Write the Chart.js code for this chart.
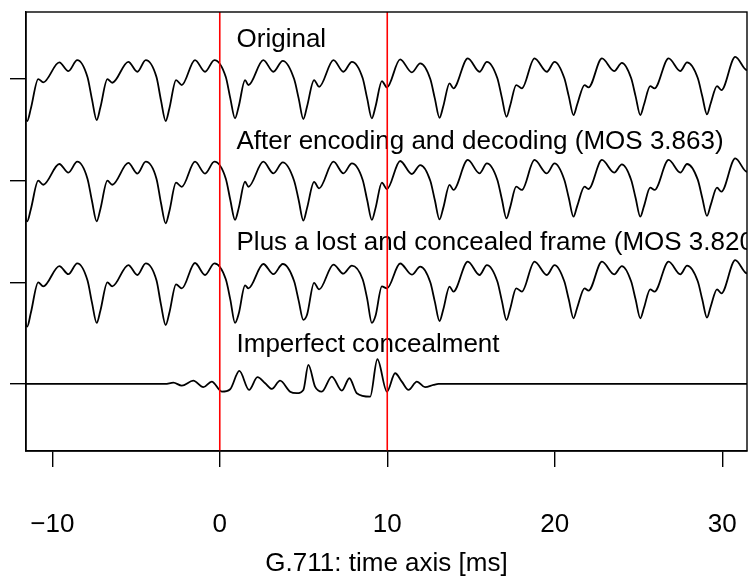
<!DOCTYPE html>
<html>
<head>
<meta charset="utf-8">
<script src="https://cdn.jsdelivr.net/npm/chart.js@4"></script>
<style>
  body { margin: 0; background: #fff; }
  canvas { display: block; }
</style>
</head>
<body>
<canvas id="chart" width="748" height="579"></canvas>
<script>
// time of each feature point on the three speech traces [ms]
// per pitch period: mid-descent, pre-dip, dip, post-dip, shoulder, notch, peak, notch, peak
const waveTime = [
  -12.3, -11.78, -11.50, -11.28, -10.84, -10.54, -9.58, -9.04, -8.51,
  -7.90, -7.63, -7.35, -7.13, -6.71, -6.42, -5.46, -4.92, -4.42,
  -3.78, -3.51, -3.23, -3.01, -2.61, -2.27, -1.48, -0.88, -0.32,
  0.36, 0.63, 0.91, 1.13, 1.51, 1.71, 2.60, 3.20, 3.76,
  4.44, 4.71, 4.99, 5.21, 5.63, 5.93, 6.79, 7.38, 7.89,
  8.53, 8.80, 9.08, 9.30, 9.68, 9.98, 10.77, 11.47, 11.97,
  12.57, 12.84, 13.12, 13.34, 13.72, 13.95, 14.81, 15.51, 15.95,
  16.57, 16.84, 17.12, 17.34, 17.70, 18.04, 18.79, 19.53, 19.99,
  20.57, 20.84, 21.12, 21.34, 21.78, 22.02, 22.82, 23.55, 24.01,
  24.56, 24.83, 25.11, 25.33, 25.70, 25.96, 26.80, 27.50, 27.90,
  28.54, 28.81, 29.09, 29.31, 29.69, 29.95, 30.78, 31.48, 32.00
];
const original = [
  0.000, -0.21, -0.413, -0.29, 0.000, -0.032, 0.164, 0.079, 0.187,
  0.02, -0.20, -0.403, -0.28, 0.000, -0.036, 0.170, 0.072, 0.187,
  0.02, -0.21, -0.413, -0.29, -0.010, -0.059, 0.187, 0.072, 0.187,
  0.02, -0.19, -0.386, -0.27, -0.010, -0.059, 0.187, 0.072, 0.180,
  0.00, -0.19, -0.393, -0.27, -0.010, -0.076, 0.187, 0.072, 0.170,
  0.01, -0.19, -0.386, -0.27, -0.020, -0.082, 0.194, 0.066, 0.154,
  0.00, -0.19, -0.381, -0.27, -0.042, -0.091, 0.204, 0.072, 0.170,
  0.01, -0.18, -0.371, -0.26, -0.059, -0.091, 0.204, 0.072, 0.170,
  0.01, -0.17, -0.354, -0.25, -0.059, -0.082, 0.204, 0.079, 0.160,
  0.01, -0.17, -0.354, -0.25, -0.069, -0.091, 0.204, 0.079, 0.164,
  0.01, -0.17, -0.347, -0.24, -0.069, -0.108, 0.219, 0.088, 0.167
];
const coded = [
  0.000, -0.20, -0.400, -0.28, 0.000, -0.040, 0.164, 0.079, 0.187,
  0.02, -0.20, -0.400, -0.28, 0.000, -0.040, 0.175, 0.070, 0.187,
  0.02, -0.22, -0.420, -0.30, -0.020, -0.060, 0.187, 0.070, 0.187,
  0.02, -0.19, -0.386, -0.27, -0.010, -0.060, 0.187, 0.072, 0.180,
  0.00, -0.19, -0.393, -0.27, -0.012, -0.076, 0.187, 0.072, 0.170,
  0.01, -0.19, -0.386, -0.27, -0.020, -0.082, 0.194, 0.066, 0.154,
  0.00, -0.19, -0.381, -0.27, -0.042, -0.091, 0.204, 0.072, 0.170,
  0.01, -0.18, -0.371, -0.26, -0.059, -0.091, 0.204, 0.072, 0.170,
  0.01, -0.17, -0.354, -0.25, -0.059, -0.082, 0.204, 0.079, 0.160,
  0.01, -0.17, -0.354, -0.25, -0.069, -0.091, 0.204, 0.079, 0.164,
  0.01, -0.17, -0.347, -0.24, -0.069, -0.108, 0.219, 0.088, 0.167
];
const concealed = [
  0.000, -0.22, -0.437, -0.30, 0.000, -0.040, 0.160, 0.080, 0.187,
  0.02, -0.20, -0.400, -0.28, 0.000, -0.040, 0.170, 0.072, 0.187,
  0.02, -0.22, -0.420, -0.30, -0.020, -0.060, 0.190, 0.072, 0.187,
  0.03, -0.17, -0.400, -0.31, -0.030, -0.060, 0.180, 0.080, 0.180,
  0.01, -0.18, -0.370, -0.32, -0.005, -0.070, 0.175, 0.085, 0.165,
  0.03, -0.16, -0.400, -0.33, -0.040, -0.060, 0.185, 0.075, 0.154,
  0.00, -0.19, -0.381, -0.27, -0.042, -0.091, 0.204, 0.072, 0.170,
  0.01, -0.18, -0.371, -0.26, -0.059, -0.091, 0.204, 0.072, 0.170,
  0.01, -0.17, -0.354, -0.25, -0.059, -0.082, 0.204, 0.079, 0.160,
  0.01, -0.17, -0.354, -0.25, -0.069, -0.091, 0.204, 0.079, 0.164,
  0.01, -0.17, -0.347, -0.24, -0.069, -0.108, 0.219, 0.088, 0.167
];

// difference trace (original minus concealed)
const diffTime = [
  -12.3, -3.26, -2.77, -2.27, -1.58, -0.98, -0.48, 0.12, 0.62, 1.17,
  1.75, 2.25, 2.71, 3.11, 3.60, 4.20, 4.60, 4.99, 5.29, 5.69,
  6.09, 6.69, 7.29, 7.74, 8.18, 8.98, 9.41, 9.98, 10.47, 10.87,
  11.27, 11.77, 12.26, 12.76, 13.06, 32.0
];
const diffValues = [
  0, 0, 0.013, -0.017, 0.032, -0.032, 0.023, -0.076, -0.052, 0.128,
  -0.059, 0.066, 0.007, -0.049, 0.032, -0.076, -0.091, -0.059, 0.187, -0.027,
  -0.076, 0.072, -0.066, 0.056, -0.091, -0.125, 0.243, -0.076, 0.105, 0.023,
  -0.059, 0.023, -0.032, -0.010, 0, 0
];

const rowLevels = [3, 2, 1, 0];
const rowLabels = [
  'Original',
  'After encoding and decoding (MOS 3.863)',
  'Plus a lost and concealed frame (MOS 3.820)',
  'Imperfect concealment'
];
const frameEdges = [0, 10];          // lost frame boundaries [ms]
const xTicks = [-10, 0, 10, 20, 30];
const xTickLabels = ['\u221210', '0', '10', '20', '30'];
const xMin = -11.57, xMax = 31.48;
const yMin = -0.66, yMax = 3.66;
const labelX = 1, labelLift = 0.315;

const FONT = '"Liberation Sans", Arial, Helvetica, sans-serif';

function trace(times, values, level) {
  return {
    data: times.map((t, i) => ({ x: t, y: level + values[i] })),
    borderColor: '#000',
    borderWidth: 1.8,
    pointRadius: 0,
    fill: false,
    cubicInterpolationMode: 'monotone'
  };
}

const datasets = frameEdges.map(t => ({
  data: [{ x: t, y: yMin }, { x: t, y: yMax }],
  borderColor: '#ff0000',
  borderWidth: 1.6,
  pointRadius: 0,
  fill: false
}));
datasets.push(trace(waveTime, original, rowLevels[0]));
datasets.push(trace(waveTime, coded, rowLevels[1]));
datasets.push(trace(waveTime, concealed, rowLevels[2]));
datasets.push(trace(diffTime, diffValues, rowLevels[3]));

const labelPlugin = {
  id: 'rowLabels',
  beforeDatasetsDraw(chart) {
    const { ctx, chartArea: a, scales: { x, y } } = chart;
    ctx.save();
    ctx.beginPath();
    ctx.rect(a.left, a.top, a.right - a.left, a.bottom - a.top);
    ctx.clip();
    ctx.font = '26px ' + FONT;
    ctx.fillStyle = '#000';
    ctx.textAlign = 'left';
    ctx.textBaseline = 'alphabetic';
    rowLabels.forEach((s, i) => {
      ctx.fillText(s, x.getPixelForValue(labelX), y.getPixelForValue(rowLevels[i] + labelLift));
    });
    ctx.restore();
  },
  afterDraw(chart) {
    const { ctx, chartArea: a } = chart;
    ctx.save();
    ctx.strokeStyle = '#000';
    ctx.lineWidth = 1.4;
    ctx.strokeRect(a.left, a.top, a.right - a.left, a.bottom - a.top);
    ctx.restore();
  }
};

const axisGrid = { drawOnChartArea: false, drawTicks: true, tickLength: 16, color: '#000', lineWidth: 1.4 };

function noPad(s) {
  s.paddingLeft = 0; s.paddingRight = 0; s.paddingTop = 0; s.paddingBottom = 0;
}

new Chart(document.getElementById('chart'), {
  type: 'line',
  data: { datasets },
  options: {
    responsive: false,
    animation: false,
    devicePixelRatio: 1,
    layout: { padding: { top: 12, right: 1, left: 0, bottom: 0 } },
    plugins: { legend: { display: false }, tooltip: { enabled: false } },
    scales: {
      x: {
        type: 'linear',
        min: xMin,
        max: xMax,
        afterBuildTicks: s => { s.ticks = xTicks.map(v => ({ value: v })); },
        afterFit: s => { s.height = 128; noPad(s); },
        ticks: {
          callback: (v, i) => xTickLabels[i],
          font: { family: FONT, size: 26 },
          color: '#000',
          padding: 42,
          maxRotation: 0,
          autoSkip: false
        },
        grid: axisGrid,
        border: { display: true, color: '#000', width: 1.4 },
        title: {
          display: true,
          text: 'G.711: time axis [ms]',
          font: { family: FONT, size: 26, lineHeight: 1.2 },
          color: '#000',
          padding: { top: 0, bottom: 0 }
        }
      },
      y: {
        type: 'linear',
        min: yMin,
        max: yMax,
        afterBuildTicks: s => { s.ticks = rowLevels.map(v => ({ value: v })); },
        afterFit: s => { s.width = 26; noPad(s); },
        ticks: { display: false },
        grid: axisGrid,
        border: { display: true, color: '#000', width: 1.4 }
      }
    }
  },
  plugins: [labelPlugin]
});
</script>
</body>
</html>
